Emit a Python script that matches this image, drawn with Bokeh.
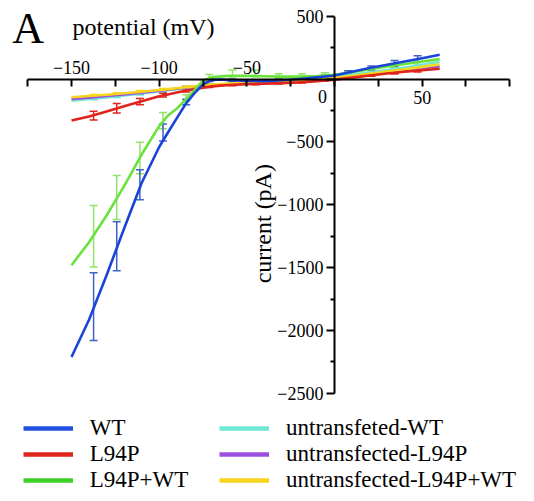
from bokeh.plotting import figure
from bokeh.models import (LinearAxis, FixedTicker, Range1d, Whisker, ColumnDataSource,
                          Legend, LegendItem, Label, TeeHead)
from bokeh.embed import file_html
from bokeh.resources import INLINE

FONT = "Liberation Serif"
NAN = float("nan")

# ---------------- data ----------------
fit_v = [-150, -140, -130, -120, -110, -100, -95, -90, -85, -80, -75, -70, -65, -60,
         -50, -40, -30, -20, -10, 0, 10, 20, 30, 40, 50, 60]

wt_fit = [-2210, -1914, -1560, -1188, -826, -540, -425, -312, -200, -114, -42, -8, -3, -8,
          -15, -16, -9, 1, 14, 28, 58, 88, 114, 140, 166, 194]
l94p_fit = [-330, -297, -258, -216, -176, -136, -122, -107, -93, -80, -68, -58, -52, -47,
            -40, -36, -32, -26, -16, -4, 12, 29, 44, 58, 70, 82]
mix_fit = [-1480, -1297, -1085, -851, -600, -374, -290, -235, -165, -92, -10, 14, 22, 26,
           27, 23, 20, 20, 25, 35, 55, 78, 100, 120, 140, 159]
un_wt_fit = [-171, -158, -145, -130, -115, -98, -89, -80, -71, -62, -55, -48, -43, -38,
             -30, -22, -14, -5, 6, 18, 34, 52, 72, 92, 114, 138]
un_l94p_fit = [-158, -147, -135, -122, -108, -93, -85, -77, -68, -60, -53, -47, -43, -39,
               -33, -27, -22, -15, -6, 5, 20, 36, 52, 68, 85, 102]
un_mix_fit = [-144, -135, -125, -113, -100, -87, -80, -73, -65, -58, -51, -45, -40, -36,
              -30, -24, -18, -10, 0, 10, 25, 42, 60, 78, 97, 117]

pts_v = [-137.4, -124.2, -111.0, -97.8, -84.6, -71.4, -58.2, -45.0, -31.8, -18.6,
         -5.4, 7.8, 21.0, 34.2, 47.4]

wt_mean = [-1810, -1330, -840, -425, -182, -10, -10, -15, -10, 3, 20, 55, 88, 125, 160]
wt_err = [270, 195, 120, 68, 22, 10, 10, 8, 8, 8, 10, 12, 16, 22, 26]
mix_mean = [-1250, -942, -627, -330, -150, 16, 45, 45, 25, 25, 35, 55, 78, 100, 122]
mix_err = [245, 175, 125, 65, 25, 20, 27, 27, 18, 18, 15, 10, 10, 10, 12]
l94p_mean = [-290, -232, -179, -127, -92, -58, -46, -38, -32, -26, -10, 8, 30, 48, 66]
l94p_err = [35, 38, 25, 15, 10, 8, 6, 6, 6, 6, 6, 6, 8, 8, 10]
un_wt_mean = [-154, -136, -117, -94, -70, -50, -36, -26, -15, -4, 12, 30, 54, 80, 108]
un_wt_err = [10, 10, 10, 10, 10, 8, 8, 8, 8, 8, 8, 8, 10, 10, 10]
un_l94p_mean = [-144, -127, -110, -90, -67, -48, -38, -30, -21, -14, 0, 17, 38, 59, 81]
un_l94p_err = [10, 10, 10, 10, 10, 8, 8, 8, 8, 8, 8, 8, 10, 10, 10]
un_mix_mean = [-132, -118, -101, -84, -64, -46, -35, -27, -19, -9, 5, 22, 44, 68, 92]
un_mix_err = [10, 10, 10, 10, 10, 8, 8, 8, 8, 8, 8, 8, 10, 10, 10]

labels = ["WT", "L94P", "L94P+WT", "untransfeted-WT", "untransfected-L94P",
          "untransfected-L94P+WT"]

x_ticks = [-175, -150, -125, -100, -75, -50, -25, 0, 25, 50, 75, 100]
x_labels_above = [-150, -100, -50]
x_labels_below = [50]
y_ticks = [-2500, -2000, -1500, -1000, -500, 0, 500]
y_minor = [-2250, -1750, -1250, -750, -250, 250]

# ---------------- figure ----------------
W, H = 526, 493
X_PER_MV = 1.7533
Y_PER_PA = 0.12573
X0_PX, Y0_PX = 334.0, 78.6
p = figure(width=W, height=H,
           x_range=Range1d(-X0_PX / X_PER_MV, (W - X0_PX) / X_PER_MV),
           y_range=Range1d((Y0_PX - H) / Y_PER_PA, Y0_PX / Y_PER_PA),
           output_backend="svg", toolbar_location=None,
           x_axis_type=None, y_axis_type=None, min_border=0, outline_line_color=None)

# axes
xb = LinearAxis(fixed_location=0, bounds=(-175, 100),
                ticker=FixedTicker(ticks=x_ticks, minor_ticks=[]),
                major_label_overrides={t: "" for t in x_ticks if t not in x_labels_below},
                axis_line_width=2, major_tick_line_width=2, major_tick_out=7, major_tick_in=0,
                major_label_standoff=5, major_label_text_font=FONT,
                major_label_text_font_size="18px", major_label_text_color="black")
p.add_layout(xb, "below")
xa = LinearAxis(fixed_location=0, ticker=FixedTicker(ticks=x_labels_above, minor_ticks=[]),
                axis_line_color=None, major_tick_line_color=None, major_tick_out=0,
                major_tick_in=0, major_label_standoff=5, major_label_text_font=FONT,
                major_label_text_font_size="18px", major_label_text_color="black")
p.add_layout(xa, "above")
yl = LinearAxis(fixed_location=0, bounds=(-2500, 500),
                ticker=FixedTicker(ticks=y_ticks, minor_ticks=y_minor),
                major_label_overrides={0: ""},
                axis_line_width=2, major_tick_line_width=2, minor_tick_line_width=2,
                major_tick_out=8, major_tick_in=0, minor_tick_out=4, minor_tick_in=0,
                major_label_standoff=3, major_label_text_font=FONT,
                major_label_text_font_size="18px", major_label_text_color="black")
p.add_layout(yl, "left")

# titles
p.add_layout(Label(x=-183.8, y=402, text="A", text_font=FONT, text_font_size="44px",
                   text_color="black", text_align="left", text_baseline="alphabetic"))
p.add_layout(Label(x=-108.9, y=411, text="potential (mV)", text_font=FONT,
                   text_font_size="24px", text_color="black", text_align="center",
                   text_baseline="alphabetic"))
p.add_layout(Label(x=-40.8, y=-1150, text="current (pA)", text_font=FONT,
                   text_font_size="24px", text_color="black", text_align="center",
                   text_baseline="middle", angle=1.5707963))
p.add_layout(Label(x=0, y=0, x_offset=-12, y_offset=-17.5, text="0", text_font=FONT,
                   text_font_size="18px", text_color="black", text_align="center",
                   text_baseline="alphabetic"))

series = [
    (labels[3], un_wt_fit, un_wt_mean, un_wt_err, "#6fe8d6", "#6fe8d6", "#6fe8d6"),
    (labels[4], un_l94p_fit, un_l94p_mean, un_l94p_err, "#9a4fe0", "#9a4fe0", "#9a4fe0"),
    (labels[5], un_mix_fit, un_mix_mean, un_mix_err, "#f7d51c", "#f7d51c", "#f7d51c"),
    (labels[1], l94p_fit, l94p_mean, l94p_err, "#e0231b", "#e0231b", "#e0231b"),
    (labels[2], mix_fit, mix_mean, mix_err, "#6ae23c", "#92e26a", "#3fd02a"),
    (labels[0], wt_fit, wt_mean, wt_err, "#1a44d8", "#3d63c9", "#2150e0"),
]

legend_r = {}
for name, fit, mean, err, col, ecol, lcol in series:
    src = ColumnDataSource(dict(x=pts_v, upper=[m + e for m, e in zip(mean, err)],
                                lower=[m - e for m, e in zip(mean, err)]))
    p.add_layout(Whisker(source=src, base="x", upper="upper", lower="lower",
                         line_color=ecol, line_width=1.5,
                         upper_head=TeeHead(size=8, line_color=ecol, line_width=1.5),
                         lower_head=TeeHead(size=8, line_color=ecol, line_width=1.5)))
    p.line(fit_v, fit, line_color=col, line_width=2.6, line_join="round")
    # legend-only renderer (no drawable point), thicker swatch as in the reference
    legend_r[name] = p.line(x=[NAN], y=[NAN], line_color=lcol, line_width=4.5)


def make_legend(names, loc):
    return Legend(items=[LegendItem(label=n, renderers=[legend_r[n]]) for n in names],
                  location=loc, orientation="vertical", glyph_width=50, glyph_height=20,
                  label_height=20, label_standoff=17, spacing=0, padding=0, margin=0,
                  border_line_color=None, background_fill_alpha=0,
                  label_text_font=FONT, label_text_font_size="23px",
                  label_text_color="black")


p.add_layout(make_legend(labels[:3], (22.7, 0)))
p.add_layout(make_legend(labels[3:], (219, 0)))

open("out.html", "w").write(file_html(p, INLINE))
